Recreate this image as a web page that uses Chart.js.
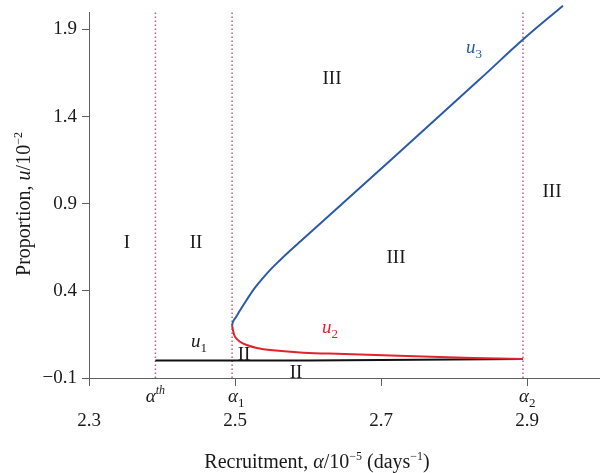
<!DOCTYPE html>
<html>
<head>
<meta charset="utf-8">
<title>Bifurcation diagram</title>
<script src="https://cdn.jsdelivr.net/npm/chart.js"></script>
<style>
  html, body { margin: 0; padding: 0; background: #fff; }
  #wrap { width: 600px; height: 473px; }
</style>
</head>
<body>
<div id="wrap"><canvas id="bifChart" width="600" height="473"></canvas></div>

<script>
// recruitment alpha (x1e-5 per day) against proportion u (x1e-2)
const xTicks = [2.3, 2.5, 2.7, 2.9];
const yTicks = [-0.1, 0.4, 0.9, 1.4, 1.9];

// critical recruitment values
const alphaTh = 2.391;
const alpha1 = 2.496;
const alpha2 = 2.8945;

// equilibrium branches
const u1Alpha = [2.391, 2.6, 2.75, 2.8945];
const u1Vals  = [0.0, 0.0, 0.004, 0.009];

const u2Alpha = [2.496, 2.4977, 2.5, 2.5068, 2.516, 2.53, 2.548, 2.5936, 2.65, 2.735, 2.826, 2.8945];
const u2Vals  = [0.202, 0.165, 0.137, 0.108, 0.089, 0.072, 0.060, 0.045, 0.038, 0.026, 0.0146, 0.009];

const u3Alpha = [2.496, 2.4975, 2.5014, 2.5068, 2.5137, 2.5205, 2.5274, 2.537, 2.5479, 2.5616, 2.5753,
                 2.589, 2.6096, 2.637, 2.6712, 2.7534, 2.8356, 2.8945, 2.9493];
const u3Vals  = [0.202, 0.225, 0.250, 0.287, 0.333, 0.377, 0.418, 0.467, 0.519, 0.576, 0.630,
                 0.682, 0.759, 0.862, 0.991, 1.303, 1.615, 1.842, 2.036];

// region numerals
const regionText  = ['I', 'II', 'III', 'III', 'III', 'II', 'II'];
const regionAlpha = [2.352, 2.4466, 2.6329, 2.7205, 2.9342, 2.5123, 2.5836];
const regionU     = [0.685, 0.685, 1.624, 0.599, 0.977, 0.043, -0.06];

const FAM = "'Liberation Serif', 'Times New Roman', serif";
const BLUE = '#2b5aa8';
const RED = '#e3232c';
const DOT = '#b8617c';
const AXIS = '#5f5f5f';

const toPoints = (xs, ys) => xs.map((x, i) => ({ x: x, y: ys[i] }));
const vline = a => [{ x: a, y: -0.1 }, { x: a, y: 2.0 }];

function fontFor(style, size) {
  if (style === 'i') return 'italic ' + size + 'px ' + FAM;
  if (style === 'sup') return '12px ' + FAM;
  if (style === 'isup') return 'italic 12px ' + FAM;
  if (style === 'sub') return '13px ' + FAM;
  return size + 'px ' + FAM;
}
function offsetFor(style) {
  if (style === 'sup' || style === 'isup') return -8;
  if (style === 'sub') return 5;
  return 0;
}
function richWidth(ctx, parts, size) {
  let w = 0;
  parts.forEach(([t, s]) => { ctx.font = fontFor(s, size); w += ctx.measureText(t).width; });
  return w;
}
// draws a run of text pieces with italic / super / subscript parts
function drawRich(ctx, parts, x, y, size, align) {
  let cx = align === 'center' ? x - richWidth(ctx, parts, size) / 2 : x;
  ctx.textAlign = 'left';
  ctx.textBaseline = 'alphabetic';
  parts.forEach(([t, s]) => {
    ctx.font = fontFor(s, size);
    ctx.fillText(t, cx, y + offsetFor(s));
    cx += ctx.measureText(t).width;
  });
}

const textPlugin = {
  id: 'labels',
  afterDraw(chart) {
    const ctx = chart.ctx;
    const xs = chart.scales.x, ys = chart.scales.y;
    const bottom = ys.bottom;
    ctx.save();
    ctx.fillStyle = '#1a1a1a';

    // region numerals
    regionText.forEach((t, i) => {
      drawRich(ctx, [[t, 'n']], xs.getPixelForValue(regionAlpha[i]), ys.getPixelForValue(regionU[i]) + 6.5, 19, 'center');
    });

    // branch names
    drawRich(ctx, [['u', 'i'], ['1', 'sub']], xs.getPixelForValue(2.4507), ys.getPixelForValue(0.106) + 4.5, 19, 'center');
    ctx.fillStyle = RED;
    drawRich(ctx, [['u', 'i'], ['2', 'sub']], xs.getPixelForValue(2.630), ys.getPixelForValue(0.186) + 4.5, 19, 'center');
    ctx.fillStyle = BLUE;
    drawRich(ctx, [['u', 'i'], ['3', 'sub']], xs.getPixelForValue(2.8274), ys.getPixelForValue(1.79) + 4.5, 19, 'center');

    // critical values under the axis
    ctx.fillStyle = '#1a1a1a';
    const by = bottom + 24;
    drawRich(ctx, [['α', 'i'], ['th', 'isup']], xs.getPixelForValue(alphaTh), by, 19, 'center');
    ctx.font = fontFor('i', 19);
    const aw = ctx.measureText('α').width;
    drawRich(ctx, [['α', 'i'], ['1', 'sub']], xs.getPixelForValue(alpha1) - aw / 2 + 1, by, 19, 'left');
    drawRich(ctx, [['α', 'i'], ['2', 'sub']], xs.getPixelForValue(alpha2) - aw / 2 + 1, by, 19, 'left');

    // axis titles
    drawRich(ctx, [['Recruitment, ', 'n'], ['α', 'i'], ['/10', 'n'], ['−5', 'sup'], [' (days', 'n'], ['−1', 'sup'], [')', 'n']],
      317, 468, 20, 'center');
    ctx.translate(24, 204);
    ctx.rotate(-Math.PI / 2);
    drawRich(ctx, [['Proportion, ', 'n'], ['u', 'i'], ['/10', 'n'], ['−2', 'sup']], 0, 6, 20, 'center');
    ctx.restore();
  }
};

const lineSet = (data, color, width, extra) => Object.assign({
  data: data,
  showLine: true,
  borderColor: color,
  borderWidth: width,
  pointRadius: 0,
  fill: false
}, extra || {});

const ctx = document.getElementById('bifChart').getContext('2d');
const bifChart = new Chart(ctx, {
  type: 'scatter',
  data: {
    datasets: [
      lineSet(toPoints(u3Alpha, u3Vals), BLUE, 2, { tension: 0.4, clip: false }),
      lineSet(toPoints(u2Alpha, u2Vals), RED, 2, { tension: 0.4 }),
      lineSet(toPoints(u1Alpha, u1Vals), '#111', 2),
      lineSet(vline(alphaTh), DOT, 1.5, { borderDash: [1.5, 2.5] }),
      lineSet(vline(alpha1), DOT, 1.5, { borderDash: [1.5, 2.5] }),
      lineSet(vline(alpha2), DOT, 1.5, { borderDash: [1.5, 2.5] })
    ]
  },
  options: {
    responsive: false,
    animation: false,
    events: [],
    layout: { padding: { top: 12, right: 0, bottom: 0, left: 0 } },
    plugins: { legend: { display: false }, tooltip: { enabled: false } },
    scales: {
      x: {
        type: 'linear',
        min: 2.3,
        max: 3.0,
        afterBuildTicks: s => { s.ticks = xTicks.map(v => ({ value: v })); },
        afterFit: s => { s.height = 95; s.paddingLeft = 0; s.paddingRight = 0; },
        border: { display: true, color: AXIS, width: 1 },
        grid: { drawOnChartArea: false, tickLength: 8, color: AXIS },
        ticks: {
          padding: 24,
          color: '#1a1a1a',
          font: { family: FAM, size: 19 },
          callback: v => v.toFixed(1)
        }
      },
      y: {
        type: 'linear',
        min: -0.1,
        max: 2.0,
        afterBuildTicks: s => { s.ticks = yTicks.map(v => ({ value: v })); },
        afterFit: s => { s.width = 89; s.paddingTop = 0; s.paddingBottom = 0; },
        border: { display: true, color: AXIS, width: 1 },
        grid: { drawOnChartArea: false, tickLength: 7, color: AXIS },
        ticks: {
          padding: 5,
          color: '#1a1a1a',
          font: { family: FAM, size: 19 },
          callback: v => v.toFixed(1).replace('-', '−')
        }
      }
    }
  },
  plugins: [textPlugin]
});
</script>
</body>
</html>
